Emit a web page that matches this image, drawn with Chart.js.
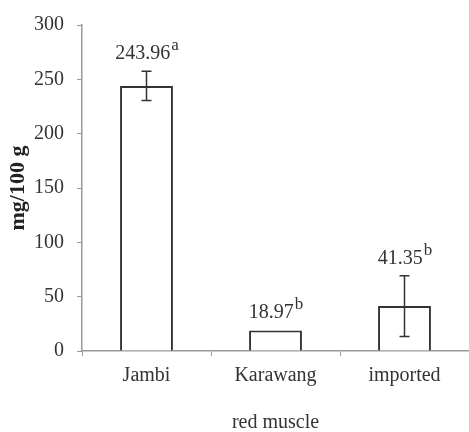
<!DOCTYPE html>
<html><head><meta charset="utf-8">
<script src="https://cdn.jsdelivr.net/npm/chart.js@4"></script>
<style>html,body{margin:0;padding:0;background:#fff}</style>
</head><body>
<canvas id="c" width="469" height="432"></canvas>
<script>
const categories = ['Jambi', 'Karawang', 'imported'];
const values = [243.96, 18.97, 41.35];
const errors = [13.5, 0, 28];
const valueLabels = ['243.96', '18.97', '41.35'];
const letters = ['a', 'b', 'b'];
const yTitle = 'mg/100 g';
const xTitle = 'red muscle';

const FONT = 'Liberation Serif';
const TXT = '#333';

const errPlugin = {
  id: 'errLabels',
  afterDatasetsDraw(chart) {
    const ctx = chart.ctx;
    const meta = chart.getDatasetMeta(0);
    const ys = chart.scales.y;
    ctx.save();
    meta.data.forEach((bar, i) => {
      const x = bar.x;
      const e = errors[i];
      if (e > 0) {
        const t = ys.getPixelForValue(values[i] + e);
        const b = ys.getPixelForValue(values[i] - e);
        ctx.strokeStyle = '#333';
        ctx.lineWidth = 1.5;
        ctx.beginPath();
        ctx.moveTo(x, t); ctx.lineTo(x, b);
        ctx.moveTo(x - 5, t); ctx.lineTo(x + 5, t);
        ctx.moveTo(x - 5, b); ctx.lineTo(x + 5, b);
        ctx.stroke();
      }
      const top = ys.getPixelForValue(values[i] + e);
      const base = top - 12;
      ctx.fillStyle = TXT;
      ctx.textBaseline = 'alphabetic';
      ctx.textAlign = 'left';
      ctx.font = '20px "' + FONT + '"';
      const w1 = ctx.measureText(valueLabels[i]).width;
      ctx.font = '17px "' + FONT + '"';
      const w2 = ctx.measureText(letters[i]).width;
      const sx = x - (w1 + w2) / 2;
      ctx.font = '20px "' + FONT + '"';
      ctx.fillText(valueLabels[i], sx, base);
      ctx.font = '17px "' + FONT + '"';
      ctx.fillText(letters[i], sx + w1 + 1, base - 9);
    });
    ctx.restore();
  }
};

new Chart(document.getElementById('c'), {
  type: 'bar',
  data: {
    labels: categories,
    datasets: [{
      data: values,
      backgroundColor: '#ffffff',
      borderColor: '#333',
      borderWidth: 2,
      barPercentage: 0.41,
      categoryPercentage: 1.0
    }]
  },
  options: {
    responsive: false,
    animation: false,
    layout: { padding: { top: 23, right: 0, left: 0, bottom: 0 } },
    plugins: { legend: { display: false }, tooltip: { enabled: false } },
    scales: {
      x: {
        afterFit(s) { s.height = 81; },
        grid: { display: true, drawOnChartArea: false, tickLength: 5, color: '#999', offset: true },
        border: { color: '#999', width: 1.5 },
        ticks: { color: TXT, font: { family: FONT, size: 20 }, padding: 8 },
        title: { display: true, text: xTitle, color: TXT, font: { family: FONT, size: 20 }, padding: { top: 0, bottom: -3 } }
      },
      y: {
        min: 0, max: 300,
        afterFit(s) { s.width = 82; },
        grid: { display: true, drawOnChartArea: false, tickLength: 5, color: '#999' },
        border: { color: '#999', width: 1.5 },
        ticks: { stepSize: 50, color: TXT, font: { family: FONT, size: 20 }, padding: 13 },
        title: { display: true, text: yTitle, color: '#222', font: { family: FONT, size: 22, weight: 'bold' }, padding: { top: 5, bottom: 0 } }
      }
    }
  },
  plugins: [errPlugin]
});
</script>
</body></html>
